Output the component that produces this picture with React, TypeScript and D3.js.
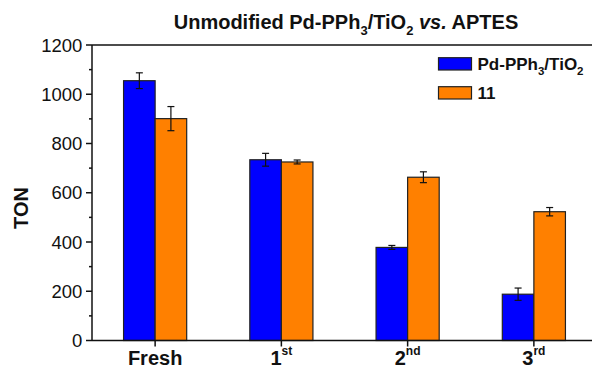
import React from "react";
import * as d3 from "d3";

const categories = ["Fresh", "1", "2", "3"];
const categorySup = ["", "st", "nd", "rd"];
const seriesNames = ["Pd-PPh3/TiO2", "11"];
const pdValues = [1055, 734, 378, 188];
const pdErrors = [32, 26, 8, 25];
const aptesValues = [901, 725, 663, 523];
const aptesErrors = [49, 8, 22, 17];
const yTicks = [0, 200, 400, 600, 800, 1000, 1200];
const yMinorTicks = [100, 300, 500, 700, 900, 1100];
const colors = ["#0000FF", "#FF8000"];

export default function App() {
  const W = 592, H = 367;
  const left = 92, right = 597, top = 45, bottom = 340.5;
  const x = d3.scaleBand<string>().domain(categories).range([left, right]);
  const y = d3.scaleLinear().domain([0, 1200]).range([bottom, top]);
  const bw = x.bandwidth() * 0.25;
  const series = [
    { vals: pdValues, errs: pdErrors },
    { vals: aptesValues, errs: aptesErrors },
  ];
  const font = "Arial, 'Liberation Sans', sans-serif";
  return (
    <svg width={W} height={H} style={{ position: "absolute", left: 0, top: 0, background: "#fff" }} fontFamily={font}>
      <rect width={W} height={H} fill="#fff" />
      {/* title */}
      <text x={346} y={29} textAnchor="middle" fontSize={20} fontWeight="bold" fill="#111">
        Unmodified Pd-PPh<tspan fontSize={13} dy={6}>3</tspan>
        <tspan dy={-6}>/TiO</tspan><tspan fontSize={13} dy={6}>2</tspan>
        <tspan dy={-6} fontStyle="italic"> vs.</tspan><tspan> APTES</tspan>
      </text>
      {/* bars */}
      {categories.map((c, i) => {
        const cx = (x(c) as number) + x.bandwidth() / 2;
        return series.map((s, j) => {
          const x0 = cx - bw + j * bw;
          const v = s.vals[i];
          const e = s.errs[i];
          const mx = x0 + bw / 2;
          return (
            <g key={c + j}>
              <rect x={x0} y={y(v)} width={bw} height={y(0) - y(v)} fill={colors[j]} stroke="#222" strokeWidth={1.2} />
              <line x1={mx} x2={mx} y1={y(v + e)} y2={y(v - e)} stroke="#111" strokeWidth={1.2} />
              <line x1={mx - 3.5} x2={mx + 3.5} y1={y(v + e)} y2={y(v + e)} stroke="#111" strokeWidth={1.2} />
              <line x1={mx - 3.5} x2={mx + 3.5} y1={y(v - e)} y2={y(v - e)} stroke="#111" strokeWidth={1.2} />
            </g>
          );
        });
      })}
      {/* axes */}
      <line x1={left} x2={W} y1={top} y2={top} stroke="#111" strokeWidth={1.5} />
      <line x1={left} x2={W} y1={bottom} y2={bottom} stroke="#111" strokeWidth={1.5} />
      <line x1={left} x2={left} y1={top} y2={bottom} stroke="#111" strokeWidth={1.5} />
      {yTicks.map((t) => (
        <g key={t}>
          <line x1={left - 6} x2={left} y1={y(t)} y2={y(t)} stroke="#111" strokeWidth={1.5} />
          <text x={82.3} y={y(t)} dy="0.36em" textAnchor="end" fontSize={18.5} fill="#111">{t}</text>
        </g>
      ))}
      {yMinorTicks.map((t) => (
        <line key={t} x1={left - 3} x2={left} y1={y(t)} y2={y(t)} stroke="#111" strokeWidth={1.5} />
      ))}
      {categories.map((c, i) => {
        const cx = (x(c) as number) + x.bandwidth() / 2;
        return (
          <g key={c}>
            <line x1={cx} x2={cx} y1={bottom} y2={bottom + 6} stroke="#111" strokeWidth={1.5} />
            <text x={cx} y={364.5} textAnchor="middle" fontSize={20} fontWeight="bold" fill="#111">
              {c}
              {categorySup[i] && <tspan fontSize={12} dy={-10}>{categorySup[i]}</tspan>}
            </text>
          </g>
        );
      })}
      <text transform={`translate(28,208) rotate(-90)`} textAnchor="middle" fontSize={20} fontWeight="bold" fill="#111">TON</text>
      {/* legend */}
      {seriesNames.map((n, j) => (
        <g key={n}>
          <rect x={438.5} y={57.7 + j * 29} width={33} height={12.3} fill={colors[j]} stroke="#222" strokeWidth={1.2} />
          {j === 0 ? (
            <text x={477.5} y={69.5 + j * 29} fontSize={17} fontWeight="bold" fill="#111">
              Pd-PPh<tspan fontSize={11.5} dy={5}>3</tspan><tspan dy={-5}>/TiO</tspan><tspan fontSize={11.5} dy={5}>2</tspan>
            </text>
          ) : (
            <text x={477.5} y={69.5 + j * 29} fontSize={17} fontWeight="bold" fill="#111">{n}</text>
          )}
        </g>
      ))}
    </svg>
  );
}
